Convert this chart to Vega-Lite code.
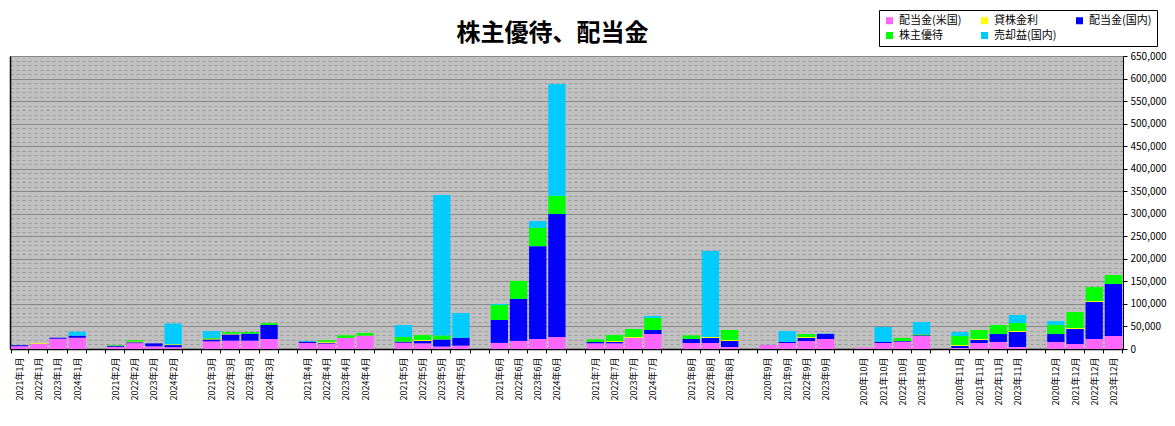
{
  "$schema": "https://vega.github.io/schema/vega-lite/v6.json",
  "autosize": {"type": "none"},
  "width": 1113,
  "height": 293,
  "padding": {"left": 10, "top": 56, "right": 52, "bottom": 77},
  "background": "white",
  "title": {"text": "株主優待、配当金", "font": "Noto Sans CJK JP", "fontSize": 24, "fontWeight": "bold", "color": "#000000", "anchor": "middle", "frame": "group", "dx": -14, "offset": -36},
  "data": {"values": [
    {"月": "2021年1月", "配当金(米国)": 6000, "貸株金利": 0, "配当金(国内)": 2500, "株主優待": 0, "売却益(国内)": 0},
    {"月": "2022年1月", "配当金(米国)": 11500, "貸株金利": 1500, "配当金(国内)": 0, "株主優待": 0, "売却益(国内)": 0},
    {"月": "2023年1月", "配当金(米国)": 23000, "貸株金利": 0, "配当金(国内)": 2000, "株主優待": 0, "売却益(国内)": 0},
    {"月": "2024年1月", "配当金(米国)": 25000, "貸株金利": 0, "配当金(国内)": 4500, "株主優待": 0, "売却益(国内)": 9000},
    {"月": "2021年2月", "配当金(米国)": 5000, "貸株金利": 0, "配当金(国内)": 2000, "株主優待": 1500, "売却益(国内)": 0},
    {"月": "2022年2月", "配当金(米国)": 13000, "貸株金利": 2000, "配当金(国内)": 1500, "株主優待": 3000, "売却益(国内)": 0},
    {"月": "2023年2月", "配当金(米国)": 6000, "貸株金利": 0, "配当金(国内)": 6500, "株主優待": 0, "売却益(国内)": 0},
    {"月": "2024年2月", "配当金(米国)": 4000, "貸株金利": 2000, "配当金(国内)": 4500, "株主優待": 0, "売却益(国内)": 46000},
    {"月": "2021年3月", "配当金(米国)": 17000, "貸株金利": 2000, "配当金(国内)": 3700, "株主優待": 2000, "売却益(国内)": 15000},
    {"月": "2022年3月", "配当金(米国)": 18500, "貸株金利": 2000, "配当金(国内)": 13300, "株主優待": 3700, "売却益(国内)": 0},
    {"月": "2023年3月", "配当金(米国)": 18500, "貸株金利": 0, "配当金(国内)": 15500, "株主優待": 3700, "売却益(国内)": 0},
    {"月": "2024年3月", "配当金(米国)": 22000, "貸株金利": 0, "配当金(国内)": 31000, "株主優待": 4400, "売却益(国内)": 0},
    {"月": "2021年4月", "配当金(米国)": 13300, "貸株金利": 0, "配当金(国内)": 3000, "株主優待": 0, "売却益(国内)": 1500},
    {"月": "2022年4月", "配当金(米国)": 12000, "貸株金利": 2500, "配当金(国内)": 1500, "株主優待": 3500, "売却益(国内)": 0},
    {"月": "2023年4月", "配当金(米国)": 24500, "貸株金利": 0, "配当金(国内)": 0, "株主優待": 6000, "売却益(国内)": 0},
    {"月": "2024年4月", "配当金(米国)": 29600, "貸株金利": 0, "配当金(国内)": 0, "株主優待": 6000, "売却益(国内)": 0},
    {"月": "2021年5月", "配当金(米国)": 14000, "貸株金利": 0, "配当金(国内)": 2200, "株主優待": 10300, "売却益(国内)": 26600},
    {"月": "2022年5月", "配当金(米国)": 12500, "貸株金利": 2200, "配当金(国内)": 5200, "株主優待": 11000, "売却益(国内)": 0},
    {"月": "2023年5月", "配当金(米国)": 5500, "貸株金利": 0, "配当金(国内)": 15500, "株主優待": 8900, "売却益(国内)": 312000},
    {"月": "2024年5月", "配当金(米国)": 7400, "貸株金利": 0, "配当金(国内)": 17000, "株主優待": 0, "売却益(国内)": 55400},
    {"月": "2021年6月", "配当金(米国)": 13500, "貸株金利": 0, "配当金(国内)": 51000, "株主優待": 33300, "売却益(国内)": 2200},
    {"月": "2022年6月", "配当金(米国)": 18000, "貸株金利": 0, "配当金(国内)": 93100, "株主優待": 40000, "売却益(国内)": 0},
    {"月": "2023年6月", "配当金(米国)": 22200, "貸株金利": 0, "配当金(国内)": 206000, "株主優待": 40700, "売却益(国内)": 14800},
    {"月": "2024年6月", "配当金(米国)": 26700, "貸株金利": 0, "配当金(国内)": 272700, "株主優待": 40700, "売却益(国内)": 248000},
    {"月": "2021年7月", "配当金(米国)": 12600, "貸株金利": 0, "配当金(国内)": 3000, "株主優待": 5900, "売却益(国内)": 0},
    {"月": "2022年7月", "配当金(米国)": 12600, "貸株金利": 2200, "配当金(国内)": 3000, "株主優待": 13300, "売却益(国内)": 0},
    {"月": "2023年7月", "配当金(米国)": 24400, "貸株金利": 2200, "配当金(国内)": 0, "株主優待": 17700, "売却益(国内)": 0},
    {"月": "2024年7月", "配当金(米国)": 33300, "貸株金利": 0, "配当金(国内)": 8900, "株主優待": 26600, "売却益(国内)": 4400},
    {"月": "2021年8月", "配当金(米国)": 13300, "貸株金利": 0, "配当金(国内)": 8900, "株主優待": 8100, "売却益(国内)": 0},
    {"月": "2022年8月", "配当金(米国)": 13300, "貸株金利": 2200, "配当金(国内)": 11100, "株主優待": 0, "売却益(国内)": 190700},
    {"月": "2023年8月", "配当金(米国)": 4400, "貸株金利": 2200, "配当金(国内)": 13300, "株主優待": 22200, "売却益(国内)": 0},
    {"月": "2020年9月", "配当金(米国)": 8900, "貸株金利": 0, "配当金(国内)": 0, "株主優待": 0, "売却益(国内)": 0},
    {"月": "2021年9月", "配当金(米国)": 13300, "貸株金利": 0, "配当金(国内)": 2200, "株主優待": 0, "売却益(国内)": 24400},
    {"月": "2022年9月", "配当金(米国)": 17700, "貸株金利": 2200, "配当金(国内)": 6700, "株主優待": 6700, "売却益(国内)": 0},
    {"月": "2023年9月", "配当金(米国)": 22200, "貸株金利": 0, "配当金(国内)": 11100, "株主優待": 0, "売却益(国内)": 1000},
    {"月": "2020年10月", "配当金(米国)": 3000, "貸株金利": 0, "配当金(国内)": 0, "株主優待": 0, "売却益(国内)": 0},
    {"月": "2021年10月", "配当金(米国)": 13300, "貸株金利": 0, "配当金(国内)": 2200, "株主優待": 0, "売却益(国内)": 33300},
    {"月": "2022年10月", "配当金(米国)": 16300, "貸株金利": 0, "配当金(国内)": 1500, "株主優待": 6700, "売却益(国内)": 0},
    {"月": "2023年10月", "配当金(米国)": 28800, "貸株金利": 0, "配当金(国内)": 1500, "株主優待": 2200, "売却益(国内)": 27300},
    {"月": "2020年11月", "配当金(米国)": 2200, "貸株金利": 2200, "配当金(国内)": 4400, "株主優待": 20000, "売却益(国内)": 8900},
    {"月": "2021年11月", "配当金(米国)": 13300, "貸株金利": 2200, "配当金(国内)": 6700, "株主優待": 20000, "売却益(国内)": 0},
    {"月": "2022年11月", "配当金(米国)": 15500, "貸株金利": 0, "配当金(国内)": 17700, "株主優待": 20000, "売却益(国内)": 0},
    {"月": "2023年11月", "配当金(米国)": 4400, "貸株金利": 2200, "配当金(国内)": 33300, "株主優待": 17700, "売却益(国内)": 17700},
    {"月": "2020年12月", "配当金(米国)": 15500, "貸株金利": 0, "配当金(国内)": 17700, "株主優待": 20000, "売却益(国内)": 8900},
    {"月": "2021年12月", "配当金(米国)": 11100, "貸株金利": 2200, "配当金(国内)": 33300, "株主優待": 35500, "売却益(国内)": 0},
    {"月": "2022年12月", "配当金(米国)": 22200, "貸株金利": 2200, "配当金(国内)": 82000, "株主優待": 31000, "売却益(国内)": 0},
    {"月": "2023年12月", "配当金(米国)": 28800, "貸株金利": 0, "配当金(国内)": 115300, "株主優待": 20000, "売却益(国内)": 0}
  ]},
  "transform": [
    {"fold": ["配当金(米国)", "貸株金利", "配当金(国内)", "株主優待", "売却益(国内)"], "as": ["系列", "金額"]}
  ],
  "encoding": {
    "x": {
      "field": "月", "type": "nominal",
      "scale": {
        "domain": ["2021年1月", "2022年1月", "2023年1月", "2024年1月", " ",
          "2021年2月", "2022年2月", "2023年2月", "2024年2月", "  ",
          "2021年3月", "2022年3月", "2023年3月", "2024年3月", "   ",
          "2021年4月", "2022年4月", "2023年4月", "2024年4月", "    ",
          "2021年5月", "2022年5月", "2023年5月", "2024年5月", "     ",
          "2021年6月", "2022年6月", "2023年6月", "2024年6月", "      ",
          "2021年7月", "2022年7月", "2023年7月", "2024年7月", "       ",
          "2021年8月", "2022年8月", "2023年8月", "        ",
          "2020年9月", "2021年9月", "2022年9月", "2023年9月", "         ",
          "2020年10月", "2021年10月", "2022年10月", "2023年10月", "          ",
          "2020年11月", "2021年11月", "2022年11月", "2023年11月", "           ",
          "2020年12月", "2021年12月", "2022年12月", "2023年12月"],
        "paddingInner": 0.1, "paddingOuter": 0.05
      },
      "axis": {
        "orient": "bottom", "title": null, "grid": false,
        "domainColor": "#000000", "domainWidth": 1.5,
        "tickColor": "#000000", "tickBand": "extent", "tickSize": 4,
        "labelAngle": -90, "labelFont": "Noto Sans CJK JP", "labelFontSize": 9,
        "labelColor": "#000000", "labelPadding": 4, "labelOverlap": false
      }
    }
  },
  "layer": [
    {
      "mark": {"type": "bar", "opacity": 0},
      "encoding": {
        "y": {
          "field": "金額", "type": "quantitative",
          "scale": {"domain": [0, 650000], "nice": false, "zero": true},
          "axis": {
            "orient": "left", "title": null, "labels": false, "ticks": false,
            "values": [10000, 20000, 30000, 40000, 60000, 70000, 80000, 90000, 110000, 120000, 130000, 140000, 160000, 170000, 180000, 190000, 210000, 220000, 230000, 240000, 260000, 270000, 280000, 290000, 310000, 320000, 330000, 340000, 360000, 370000, 380000, 390000, 410000, 420000, 430000, 440000, 460000, 470000, 480000, 490000, 510000, 520000, 530000, 540000, 560000, 570000, 580000, 590000, 610000, 620000, 630000, 640000],
            "grid": true, "gridColor": "#999999", "gridDash": [3, 3], "gridWidth": 1,
            "domain": true, "domainColor": "#000000", "domainWidth": 1.5
          }
        }
      }
    },
    {
      "mark": {"type": "bar"},
      "encoding": {
        "y": {
          "field": "金額", "type": "quantitative", "stack": "zero",
          "scale": {"domain": [0, 650000], "nice": false, "zero": true},
          "axis": {
            "orient": "right", "title": null, "format": ",d",
            "values": [0, 50000, 100000, 150000, 200000, 250000, 300000, 350000, 400000, 450000, 500000, 550000, 600000, 650000],
            "grid": true, "gridColor": "#888888", "gridWidth": 1,
            "domainColor": "#000000", "domainWidth": 1,
            "tickColor": "#000000", "tickSize": 4,
            "labelFont": "Noto Sans CJK JP", "labelFontSize": 10, "labelColor": "#000000", "labelPadding": 3
          }
        },
        "color": {
          "field": "系列", "type": "nominal",
          "sort": ["配当金(米国)", "貸株金利", "配当金(国内)", "株主優待", "売却益(国内)"],
          "scale": {
            "domain": ["配当金(米国)", "貸株金利", "配当金(国内)", "株主優待", "売却益(国内)"],
            "range": ["#ff66ff", "#ffff00", "#0000ff", "#00ff00", "#00ccff"]
          },
          "legend": {
            "orient": "none", "legendX": 869, "legendY": -46,
            "direction": "horizontal", "columns": 3, "title": null,
            "symbolType": "square", "symbolSize": 49, "symbolStrokeWidth": 0,
            "labelFont": "Noto Sans CJK JP", "labelFontSize": 11, "labelColor": "#000000",
            "labelOffset": 4, "columnPadding": 17, "rowPadding": 3,
            "gridAlign": "all", "padding": 5,
            "strokeColor": "#000000", "fillColor": "#ffffff"
          }
        }
      }
    }
  ],
  "resolve": {"axis": {"y": "independent"}},
  "config": {"view": {"fill": "#c0c0c0", "stroke": null}}
}
